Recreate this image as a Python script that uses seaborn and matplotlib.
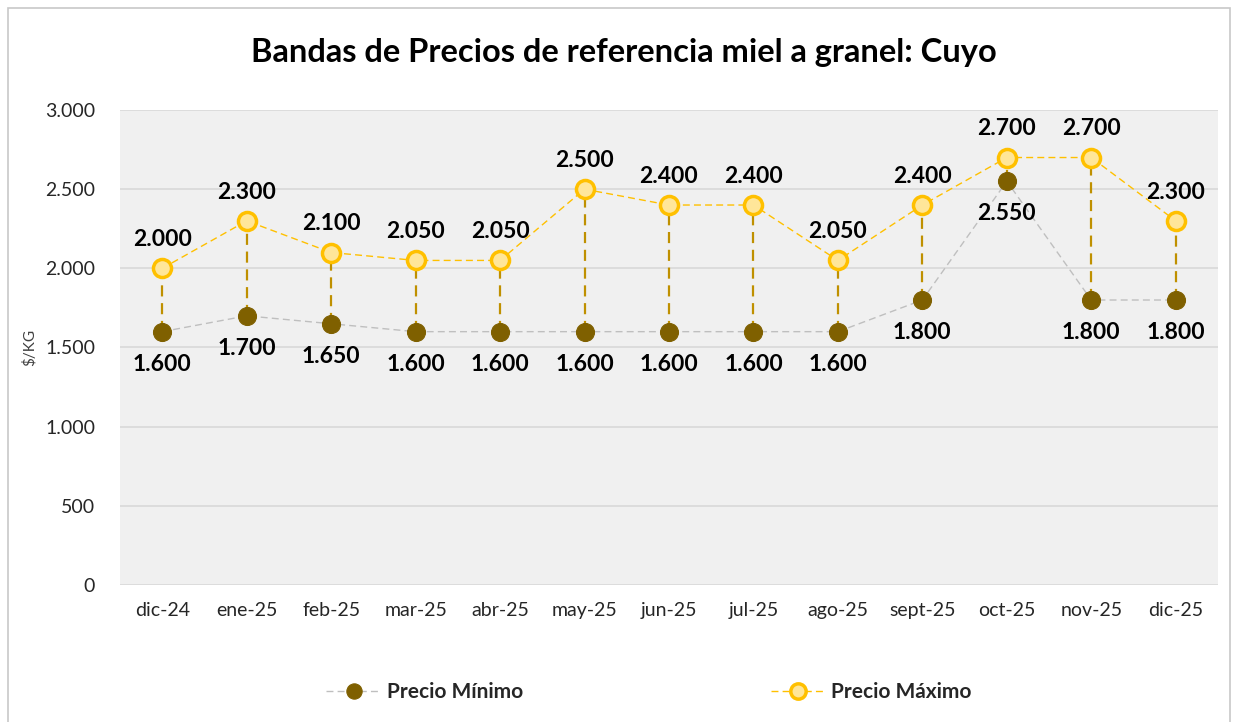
import matplotlib
matplotlib.use("Agg")
import matplotlib.pyplot as plt
import seaborn as sns
import pandas as pd
from matplotlib.patches import Rectangle
from matplotlib.ticker import FuncFormatter

# data
months = ["dic-24", "ene-25", "feb-25", "mar-25", "abr-25", "may-25", "jun-25",
          "jul-25", "ago-25", "sept-25", "oct-25", "nov-25", "dic-25"]
precio_min = [1600, 1700, 1650, 1600, 1600, 1600, 1600, 1600, 1600, 1800, 2550, 1800, 1800]
precio_max = [2000, 2300, 2100, 2050, 2050, 2500, 2400, 2400, 2050, 2400, 2700, 2700, 2300]

sns.set_theme(style="white")
plt.rcParams['font.family'] = ['Lato', 'DejaVu Sans']

df = pd.DataFrame({"pos": range(len(months)), "mes": months,
                   "min": precio_min, "max": precio_max})

fig = plt.figure(figsize=(12.36, 7.22), dpi=100)
ax = fig.add_axes([0.0971, 0.1898, 0.8883, 0.6578])
ax.set_facecolor("#F0F0F0")

# outer chart border
fig.patches.append(Rectangle((8 / 1236, -0.01), 1222 / 1236, 1 - 8 / 722 + 0.01,
                             transform=fig.transFigure, fill=False,
                             edgecolor="#C8C8C8", linewidth=1.2))

for y in range(0, 3001, 500):
    ax.axhline(y, color="#D9D9D9", linewidth=1.2, zorder=0)

# drop lines between min and max
ax.vlines(df["pos"], df["min"], df["max"], colors="#BF9000",
          linestyles=(0, (5, 3)), linewidth=1.6, zorder=1)

sns.lineplot(data=df, x="pos", y="min", ax=ax, color="#BFBFBF", linewidth=1,
             linestyle=(0, (5, 3)), marker="o", markersize=13,
             markerfacecolor="#7F6000", markeredgecolor="#7F6000",
             label="Precio Mínimo", zorder=2)
sns.lineplot(data=df, x="pos", y="max", ax=ax, color="#FFC000", linewidth=1,
             linestyle=(0, (5, 3)), marker="o", markersize=13,
             markerfacecolor="#FFE699", markeredgecolor="#FFC000",
             markeredgewidth=2.5, label="Precio Máximo", zorder=3)

fmt = lambda v: f"{v:,.0f}".replace(",", ".")

for i, row in df.iterrows():
    ax.annotate(fmt(row["max"]), (row["pos"], row["max"]), xytext=(0, 13),
                textcoords="offset points", ha="center", va="bottom",
                fontsize=16.5, fontweight="bold", color="black")
    ax.annotate(fmt(row["min"]), (row["pos"], row["min"]), xytext=(0, -16),
                textcoords="offset points", ha="center", va="top",
                fontsize=16.5, fontweight="bold", color="black")

ax.set_xlim(-0.5, len(months) - 0.5)
ax.set_ylim(0, 3000)
ax.set_xticks(df["pos"])
ax.set_xticklabels(months)
ax.set_yticks(range(0, 3001, 500))
ax.yaxis.set_major_formatter(FuncFormatter(lambda v, p: fmt(v)))
ax.tick_params(axis="both", labelsize=14, colors="#262626", length=0)
ax.tick_params(axis="x", pad=12)
ax.tick_params(axis="y", pad=18)
ax.set_xlabel("")
ax.set_ylabel("$/KG", fontsize=11, color="#404040", labelpad=6)
for s in ax.spines.values():
    s.set_visible(False)

fig.suptitle("Bandas de Precios de referencia miel a granel: Cuyo",
             x=0.505, y=0.948, fontsize=23.5, fontweight="bold", color="black")

ax.legend(loc="center", bbox_to_anchor=(0.482, -0.225), ncol=2, frameon=False,
          columnspacing=11.9, handlelength=2.6, handletextpad=0.3,
          markerscale=0.85, prop={"weight": "bold", "size": 15})

fig.savefig("out.png", dpi=100)
